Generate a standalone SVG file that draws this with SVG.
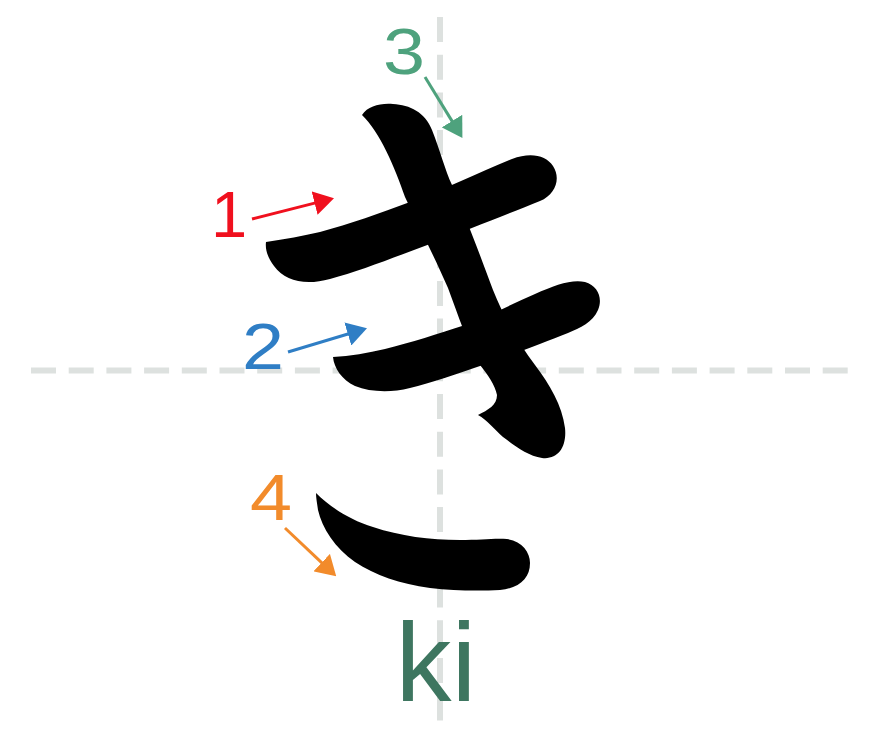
<svg xmlns="http://www.w3.org/2000/svg" width="880" height="739" viewBox="0 0 880 739">
  <style>
    .grid { stroke: #dde1df; stroke-width: 6; stroke-dasharray: 25 12.7; fill: none; }
    .stroke { fill: #000000; }
    .num { font-family: "Liberation Sans", "DejaVu Sans", sans-serif; font-size: 65px; text-anchor: middle; }
    .conn { stroke-width: 3; fill: none; }
    .romaji { font-family: "Liberation Sans", Arial, sans-serif; font-size: 112px; fill: #3e7660; }
  </style>
  <defs>
    <marker id="ah1" viewBox="0 0 20 24" markerWidth="20" markerHeight="24" refX="1" refY="12" orient="auto" markerUnits="userSpaceOnUse"><path d="M0,0 L20,12 L0,24 Z" fill="#f0101e"/></marker>
    <marker id="ah2" viewBox="0 0 20 24" markerWidth="20" markerHeight="24" refX="1" refY="12" orient="auto" markerUnits="userSpaceOnUse"><path d="M0,0 L20,12 L0,24 Z" fill="#2f7ec5"/></marker>
    <marker id="ah3" viewBox="0 0 20 24" markerWidth="20" markerHeight="24" refX="1" refY="12" orient="auto" markerUnits="userSpaceOnUse"><path d="M0,0 L20,12 L0,24 Z" fill="#4ea27d"/></marker>
    <marker id="ah4" viewBox="0 0 20 24" markerWidth="20" markerHeight="24" refX="1" refY="12" orient="auto" markerUnits="userSpaceOnUse"><path d="M0,0 L20,12 L0,24 Z" fill="#f28b2b"/></marker>
  </defs>
  <rect x="0" y="0" width="880" height="739" fill="#ffffff"/>
  <g id="grid">
    <line class="grid" x1="31" y1="370.5" x2="848" y2="370.5"/>
    <line class="grid" x1="440" y1="17" x2="440" y2="721"/>
  </g>
  <g id="stroke1">
    <path class="stroke" d="M266,242 C285,239 303,236 320,232 C350,224 380,213 410,202 C445,189 480,172 512,159 C530,152 546,155 553,166 C561,178 556,194 540,201 C510,213 470,229 430,244 C395,257 360,271 330,279 C305,286 285,281 274,266 C268,258 265,250 266,242 Z"/>
  </g>
  <g id="stroke2">
    <path class="stroke" d="M333,357 C350,356 368,353 385,349 C410,343 440,333 462,326 C485,318 510,305 535,294 C555,285 572,279 585,282 C598,286 603,298 598,310 C593,322 580,328 568,333 C545,342 510,356 483,365 C460,373 430,383 410,388 C390,393 370,392 355,386 C342,380 334,368 333,357 Z"/>
  </g>
  <g id="stroke3">
    <path class="stroke" d="M362,115 C368,106 380,103 393,104 C410,105 425,112 432,130 C440,150 445,170 452,185 C465,215 480,255 493,290 C505,320 520,345 535,365 C550,385 562,405 565,428 C567,447 558,460 542,458 C528,456 515,446 503,437 C495,430 487,420 478,415 C488,410 497,405 497,395 C495,385 488,375 480,365 C468,345 458,315 448,288 C435,258 418,225 405,197 C395,168 380,132 362,115 Z"/>
  </g>
  <g id="stroke4">
    <path class="stroke" d="M316,493 C330,507 350,520 373,527 C400,536 430,540 460,540 C480,540 495,538 507,539 C522,541 530,552 530,563 C530,578 520,588 500,590 C480,591 455,591 430,588 C400,584 375,575 355,562 C335,548 322,528 318,510 C317,503 316,498 316,493 Z"/>
  </g>
  <g id="labels">
    <text class="num" x="229" y="237" fill="#f0101e">1</text>
    <text class="num" x="263" y="369" fill="#2f7ec5" textLength="42" lengthAdjust="spacingAndGlyphs">2</text>
    <text class="num" x="404" y="74" fill="#4ea27d" textLength="42" lengthAdjust="spacingAndGlyphs">3</text>
    <text class="num" x="271" y="520" fill="#f28b2b" textLength="42" lengthAdjust="spacingAndGlyphs">4</text>
  </g>
  <g id="connectors">
    <line class="conn" stroke="#f0101e" x1="252" y1="219" x2="315.6" y2="202.9" marker-end="url(#ah1)"/>
    <line class="conn" stroke="#2f7ec5" x1="288" y1="352" x2="348.8" y2="333.7" marker-end="url(#ah2)"/>
    <line class="conn" stroke="#4ea27d" x1="425" y1="77" x2="452.5" y2="121.9" marker-end="url(#ah3)"/>
    <line class="conn" stroke="#f28b2b" x1="285" y1="528" x2="322.4" y2="563.3" marker-end="url(#ah4)"/>
  </g>
  <g id="romaji">
    <text class="romaji" x="395.5" y="701">ki</text>
  </g>
</svg>
